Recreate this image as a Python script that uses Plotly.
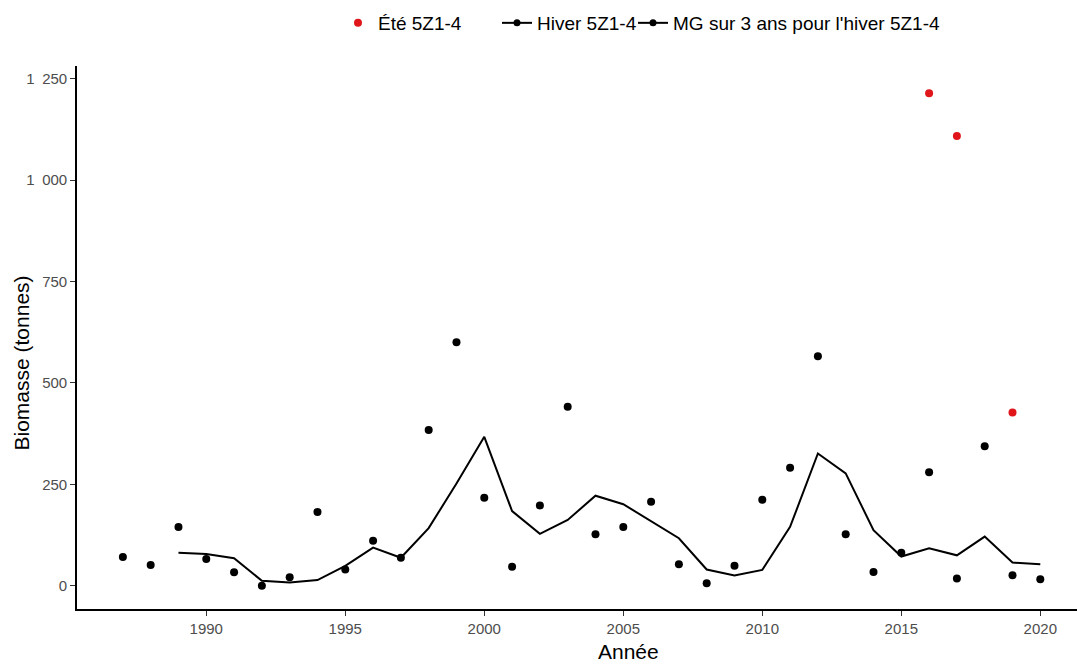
import plotly.graph_objects as go

# Relevé hivernal 5Z1-4 : biomasse (tonnes) par année
annees_hiver = list(range(1987, 2021))
biomasse_hiver = [71, 51, 145, 66, 33, 0, 21, 182, 40, 111,
                  69, 384, 600, 217, 47, 198, 441, 127, 145, 207,
                  53, 6, 49, 212, 291, 566, 127, 34, 81, 280,
                  18, 344, 26, 16]

# Moyenne géométrique sur 3 ans (hiver)
annees_mg = list(range(1989, 2021))
moyenne_mg = [81, 78, 68, 12, 8, 14, 49, 94, 69, 142,
              252, 367, 184, 128, 162, 222, 201, 159, 117, 40,
              25, 39, 145, 326, 277, 137, 72, 92, 75, 121,
              57, 53]

# Relevé estival 5Z1-4
annees_ete = [2016, 2017, 2019]
biomasse_ete = [1214, 1109, 427]

y_ticks = [0, 250, 500, 750, 1000, 1250]
y_tick_labels = ["0", "250", "500", "750", "1\u2002000", "1\u2002250"]
x_ticks = [1990, 1995, 2000, 2005, 2010, 2015, 2020]

noms = ["Été 5Z1-4", "Hiver 5Z1-4", "MG sur 3 ans pour l'hiver 5Z1-4"]

NOIR = "#000000"
ROUGE = "#e0161b"
GRIS = "#4d4d4d"
POLICE = "Liberation Sans, Arial, sans-serif"

fig = go.Figure()

# Entrées de légende (une légende par entrée pour régler l'espacement)
fig.add_trace(go.Scatter(x=[None], y=[None], mode="markers", name=noms[0],
                         marker=dict(color=ROUGE, size=8), legend="legend"))
fig.add_trace(go.Scatter(x=[None], y=[None], mode="lines+markers", name=noms[1],
                         line=dict(color=NOIR, width=2),
                         marker=dict(color=NOIR, size=7), legend="legend2"))
fig.add_trace(go.Scatter(x=[None], y=[None], mode="lines+markers", name=noms[2],
                         line=dict(color=NOIR, width=2),
                         marker=dict(color=NOIR, size=7), legend="legend3"))

# Séries tracées
fig.add_trace(go.Scatter(x=annees_mg, y=moyenne_mg, mode="lines",
                         line=dict(color=NOIR, width=2), showlegend=False))
fig.add_trace(go.Scatter(x=annees_hiver, y=biomasse_hiver, mode="markers",
                         marker=dict(color=NOIR, size=8), showlegend=False))
fig.add_trace(go.Scatter(x=annees_ete, y=biomasse_ete, mode="markers",
                         marker=dict(color=ROUGE, size=8), showlegend=False))


def legende(x):
    return dict(orientation="h", x=x, xanchor="left",
                y=1.0792, yanchor="middle",
                font=dict(size=19, color=NOIR, family=POLICE),
                bgcolor="rgba(0,0,0,0)")


fig.update_layout(
    width=1077, height=665,
    margin=dict(l=77, r=0, t=66, b=56),
    paper_bgcolor="white", plot_bgcolor="white",
    font=dict(family=POLICE, color=NOIR),
    legend=legende(0.261),
    legend2=legende(0.420),
    legend3=legende(0.556),
    xaxis=dict(range=[1985.35, 2021.32], tickvals=x_ticks,
               showgrid=False, zeroline=False,
               showline=True, linecolor=NOIR, linewidth=1.6,
               ticks="outside", ticklen=5, tickcolor="#333333", tickwidth=1,
               tickfont=dict(size=15, color=GRIS, family=POLICE)),
    yaxis=dict(range=[-57.4, 1281.3], tickvals=y_ticks, ticktext=y_tick_labels,
               showgrid=False, zeroline=False,
               showline=True, linecolor=NOIR, linewidth=1.6,
               ticks="outside", ticklen=5, tickcolor="#333333", tickwidth=1,
               tickfont=dict(size=15, color=GRIS, family=POLICE)),
    annotations=[
        dict(text="Année", xref="paper", yref="paper", x=0.551, y=-0.0774,
             xanchor="center", yanchor="middle", showarrow=False,
             font=dict(size=21, color=NOIR, family=POLICE)),
        dict(text="Biomasse (tonnes)", xref="paper", yref="paper",
             x=-0.0555, y=0.453, xanchor="center", yanchor="middle",
             textangle=-90, showarrow=False,
             font=dict(size=21, color=NOIR, family=POLICE)),
    ],
)

fig.write_html("out.html")
